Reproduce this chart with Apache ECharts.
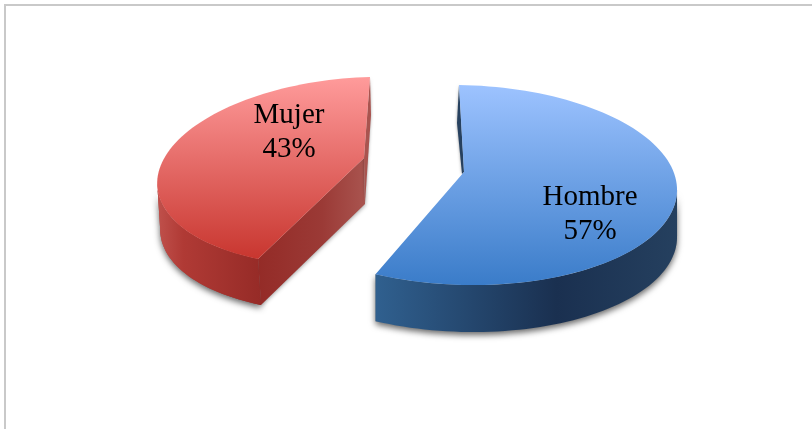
<!DOCTYPE html>
<html>
<head>
<meta charset="utf-8">
<style>html,body{margin:0;padding:0;background:#fff}#main{width:812px;height:429px}</style>
<script src="https://cdn.jsdelivr.net/npm/echarts@6/dist/echarts.min.js"></script>
</head>
<body>
<div id="main"></div>
<script>
var categories = ['Hombre', 'Mujer'];
var values = [57, 43];

// each slice sits on its own tilted ellipse: x = x0 + xs*sin + xc*cos, y = y0 + ys*sin + yc*cos
var views = [
    { x0: 463, xs: 214, xc: -4, y0: 185, ys: 3, yc: -100, apex: [464, 172], depth: 47, lean: 0, label: [590, 214],
      rim: [91, 205.2],
      top: ['#9dc3ff', '#3a7cc9'],
      wall: [[0, '#30608f'], [0.6, '#1a3050'], [1, '#25405f']] },
    { x0: 355.4, xs: 197.7, xc: 14.6, y0: 171.4, ys: -5, yc: -94.4, apex: [364, 158], depth: 46, lean: 3, label: [289, 132],
      rim: [205.2, 266],
      top: ['#ff9b9b', '#c8362f'],
      wall: [[0, '#c0514c'], [0.25, '#b03a35'], [1, '#962b27']] }
];

var total = values.reduce(function (a, b) { return a + b; }, 0);

function rimPoint(v, deg) {
    var t = deg * Math.PI / 180;
    return [v.x0 + v.xs * Math.sin(t) + v.xc * Math.cos(t),
            v.y0 + v.ys * Math.sin(t) + v.yc * Math.cos(t)];
}
function arc(v, from, to) {
    var pts = [], n = Math.ceil(Math.abs(to - from) / 2);
    for (var i = 0; i <= n; i++) pts.push(rimPoint(v, from + (to - from) * i / n));
    return pts;
}
function down(pts, v) {
    return pts.map(function (p) { return [p[0] + v.lean, p[1] + v.depth]; }).reverse();
}
function grad(x2, y2, stops) {
    return {
        type: 'linear', x: 0, y: 0, x2: x2, y2: y2,
        colorStops: stops.map(function (s) { return { offset: s[0], color: s[1] }; })
    };
}

function renderSlice(params, api) {
    var i = params.dataIndex;
    var v = views[i];
    var before = 0;
    for (var k = 0; k < i; k++) before += values[k];
    var from = before / total * 360;
    var to = (before + values[i]) / total * 360;

    var face = arc(v, from, to);
    face.push(v.apex);
    var shown = arc(v, Math.max(from, v.rim[0]), Math.min(to, v.rim[1]));
    var wall = shown.concat(down(shown, v));
    var kids = [];

    // soft shadow under the whole silhouette
    kids.push({
        type: 'polygon', shape: { points: wall },
        style: { fill: '#888', shadowBlur: 6, shadowColor: 'rgba(0,0,0,0.6)', shadowOffsetY: 3 }
    });
    kids.push({ type: 'polygon', shape: { points: wall }, style: { fill: grad(1, 0, v.wall) } });

    if (i === 0) {
        // dark inner wall of the start cut
        var s = rimPoint(v, from);
        kids.push({
            type: 'polygon',
            shape: { points: [s, v.apex, [v.apex[0] - 2, v.apex[1] + 2], [s[0] - 2, s[1] + 38]] },
            style: { fill: '#27415f', shadowBlur: 3, shadowColor: 'rgba(0,0,0,0.4)' }
        });
    } else {
        // lit cut face between the rim corner and the centre
        var c = rimPoint(v, from);
        var cut = [c, v.apex, [v.apex[0] + 1, v.apex[1] + v.depth], [c[0] + v.lean, c[1] + v.depth]];
        kids.push({
            type: 'polygon', shape: { points: cut },
            style: { fill: grad(1, 0, [[0, '#942b27'], [0.6, '#9b3a36'], [1, '#a9544f']]),
                     shadowBlur: 4, shadowColor: 'rgba(0,0,0,0.4)', shadowOffsetY: 1 }
        });
        var e = rimPoint(v, to);
        kids.push({
            type: 'polygon',
            shape: { points: [e, [e[0] + 1, e[1] + 38], [v.apex[0] + 1, v.apex[1] + 45], v.apex] },
            style: { fill: '#a9544f', shadowBlur: 3, shadowColor: 'rgba(0,0,0,0.35)' }
        });
        // redraw the rim wall edge so the cut shadow does not spill over it
        kids.push({ type: 'polygon', shape: { points: wall }, style: { fill: grad(1, 0, v.wall) } });
    }

    kids.push({ type: 'polygon', shape: { points: face }, style: { fill: grad(0, 1, [[0, v.top[0]], [1, v.top[1]]]) } });
    kids.push({
        type: 'text', x: v.label[0], y: v.label[1],
        style: {
            text: categories[i] + '\n' + values[i] + '%',
            fill: '#000', font: '29px "Liberation Serif"', lineHeight: 34,
            align: 'center', verticalAlign: 'middle'
        }
    });
    return { type: 'group', children: kids };
}

var chart = echarts.init(document.getElementById('main'));
chart.setOption({
    animation: false,
    backgroundColor: '#fff',
    graphic: [
        { type: 'rect', shape: { x: 4, y: 4, width: 808, height: 2 }, style: { fill: '#c9c9c9' } },
        { type: 'rect', shape: { x: 4, y: 4, width: 2, height: 425 }, style: { fill: '#c9c9c9' } }
    ],
    series: [{
        type: 'custom',
        coordinateSystem: 'none',
        renderItem: renderSlice,
        data: values
    }]
});
</script>
</body>
</html>
